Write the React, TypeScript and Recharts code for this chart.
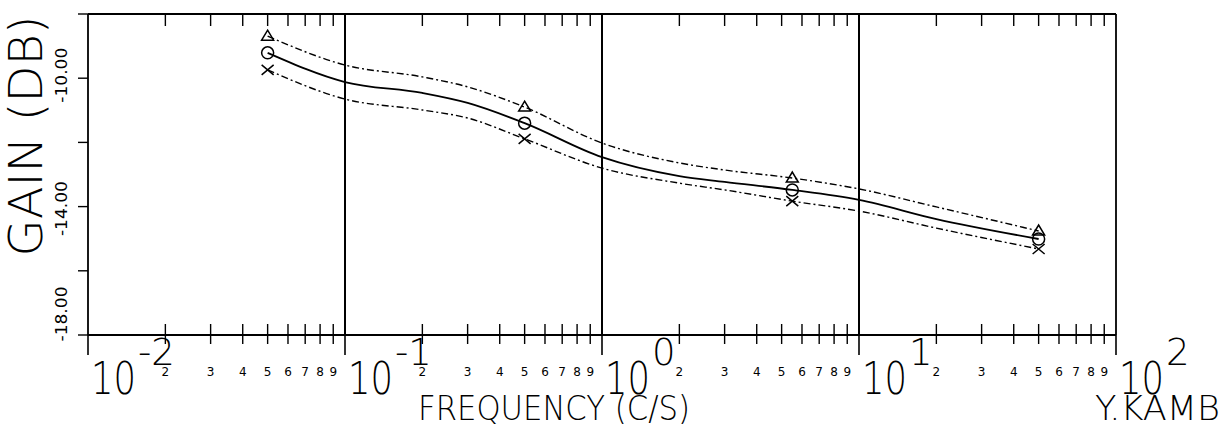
import { ComposedChart, Line, ReferenceLine, XAxis, YAxis } from "recharts";

// frequency (c/s) and gain (dB)
const freq = [0.05, 0.1, 0.2, 0.3, 0.5, 1, 2, 3, 5.5, 10, 20, 50];
const gainUpper = [-8.69, -9.59, -9.96, -10.27, -10.9, -12.02, -12.64, -12.86, -13.11, -13.45, -14.01, -14.76];
const gainMid = [-9.21, -10.12, -10.46, -10.77, -11.4, -12.46, -13.05, -13.23, -13.48, -13.79, -14.39, -15.01];
const gainLower = [-9.74, -10.65, -10.99, -11.24, -11.89, -12.8, -13.27, -13.48, -13.83, -14.14, -14.67, -15.32];
// frequencies where the plotter put a symbol
const markerFreq = [0.05, 0.5, 5.5, 50];

const decades = [0.01, 0.1, 1, 10, 100];
const decadeExp = ["-2", "-1", "0", "1", "2"];
const minorDigits = ["2", "3", "4", "5", "6", "7", "8", "9"];

const yTicks = [-18, -16, -14, -12, -10, -8];
const yLabels = [-18, -14, -10];

const FONT = "'DejaVu Sans', sans-serif";
const INK = "#000";

const data = freq.map((f, i) => ({
  f,
  up: gainUpper[i],
  mid: gainMid[i],
  low: gainLower[i],
}));

const xTicks: { v: number; label: string; major: boolean }[] = [];
decades.forEach((d, i) => {
  xTicks.push({ v: d, label: decadeExp[i], major: true });
  if (i < decades.length - 1)
    minorDigits.forEach((m) => xTicks.push({ v: d * Number(m), label: m, major: false }));
});

function BottomTick(props: any) {
  const { x, y, index } = props;
  const t = xTicks[index];
  if (!t) return <g />;
  if (t.major) {
    return (
      <g>
        <line x1={x} x2={x} y1={y} y2={y + 20} stroke={INK} strokeWidth={1.6} />
        <text x={x + 3} y={y + 59} fontSize={44} fontFamily={FONT} fontWeight={200} fill={INK}
          textLength={45} lengthAdjust="spacingAndGlyphs">10</text>
        <text x={x + 50} y={y + 30} fontSize={37} fontFamily={FONT} fontWeight={200} fill={INK}>
          {t.label}
        </text>
      </g>
    );
  }
  return (
    <g>
      <line x1={x} x2={x} y1={y - 11} y2={y + 9} stroke={INK} strokeWidth={1.4} />
      <text x={x} y={y + 41} fontSize={12} fontFamily={FONT} textAnchor="middle" fill={INK}>
        {t.label}
      </text>
    </g>
  );
}

function TopTick(props: any) {
  const { x, y, index } = props;
  const t = xTicks[index];
  if (!t || t.major) return <g />;
  return <line x1={x} x2={x} y1={y} y2={y + 12} stroke={INK} strokeWidth={1.4} />;
}

const leftShift: Record<number, number> = { [-10]: -3, [-14]: 2, [-18]: -21 };
const rightShift: Record<number, number> = { [-10]: -6, [-14]: -6, [-18]: -15 };

function LeftTick(props: any) {
  const { x, y, payload } = props;
  const v = payload.value;
  const cy = y + (leftShift[v] ?? 0);
  return (
    <g>
      <line x1={x - 10} x2={x} y1={y} y2={y} stroke={INK} strokeWidth={1.4} />
      {yLabels.includes(v) && (
        <text x={67} y={cy} transform={`rotate(-90 67 ${cy})`} fontSize={16} fontFamily={FONT}
          textAnchor="middle" fill={INK} textLength={55} lengthAdjust="spacingAndGlyphs">
          {v.toFixed(2)}
        </text>
      )}
    </g>
  );
}

function RightTick(props: any) {
  const { x, y, payload } = props;
  const v = payload.value;
  const cy = y + (rightShift[v] ?? 0);
  return (
    <g>
      <line x1={x} x2={x + 12} y1={y} y2={y} stroke={INK} strokeWidth={1.4} />
      {yLabels.includes(v) && (
        <text x={1151} y={cy} transform={`rotate(-90 1151 ${cy})`} fontSize={16} fontFamily={FONT}
          textAnchor="middle" fill={INK} textLength={55} lengthAdjust="spacingAndGlyphs">
          {v.toFixed(2)}
        </text>
      )}
    </g>
  );
}

const isMarker = (p: any) => markerFreq.includes(p?.payload?.f);

function Triangle(p: any) {
  if (!isMarker(p)) return <g key={p.key} />;
  const { cx, cy } = p;
  return (
    <path key={p.key} d={`M${cx - 6},${cy + 4} L${cx},${cy - 6} L${cx + 6},${cy + 4} Z`}
      fill="none" stroke={INK} strokeWidth={1.5} />
  );
}

function Circle(p: any) {
  if (!isMarker(p)) return <g key={p.key} />;
  return <circle key={p.key} cx={p.cx} cy={p.cy} r={6} fill="none" stroke={INK} strokeWidth={1.5} />;
}

function Cross(p: any) {
  if (!isMarker(p)) return <g key={p.key} />;
  const { cx, cy } = p;
  return (
    <path key={p.key} d={`M${cx - 6},${cy - 5} L${cx + 6},${cy + 5} M${cx - 6},${cy + 5} L${cx + 6},${cy - 5}`}
      fill="none" stroke={INK} strokeWidth={1.5} />
  );
}

export default function App() {
  return (
    <div style={{ position: "absolute", left: 0, top: 0, width: 1228, height: 428, background: "#fff" }}>
      <ComposedChart width={1228} height={428} data={data}
        margin={{ top: 4, right: 32, bottom: 13, left: 8 }}>
        <XAxis xAxisId="b" dataKey="f" type="number" scale="log" domain={[0.01, 100]}
          allowDataOverflow ticks={xTicks.map((t) => t.v)} interval={0} height={80}
          tickSize={0} tickMargin={0} tickLine={false}
          axisLine={{ stroke: INK, strokeWidth: 1.8 }} tick={<BottomTick />} />
        <XAxis xAxisId="t" orientation="top" dataKey="f" type="number" scale="log" domain={[0.01, 100]}
          allowDataOverflow ticks={xTicks.map((t) => t.v)} interval={0} height={10}
          tickSize={0} tickMargin={0} tickLine={false}
          axisLine={{ stroke: INK, strokeWidth: 1.8 }} tick={<TopTick />} />
        <YAxis yAxisId="l" type="number" domain={[-18, -8]} ticks={yTicks} interval={0} width={80}
          tickSize={0} tickMargin={0} tickLine={false}
          axisLine={{ stroke: INK, strokeWidth: 1.8 }} tick={<LeftTick />} />
        <YAxis yAxisId="r" orientation="right" type="number" domain={[-18, -8]} ticks={yTicks} interval={0}
          width={80} tickSize={0} tickMargin={0} tickLine={false}
          axisLine={{ stroke: INK, strokeWidth: 1.8 }} tick={<RightTick />} />
        {decades.slice(1, -1).map((d) => (
          <ReferenceLine key={d} xAxisId="b" yAxisId="l" x={d} stroke={INK} strokeWidth={2} />
        ))}
        <Line xAxisId="b" yAxisId="l" type="monotone" dataKey="up" stroke={INK} strokeWidth={1.4}
          strokeDasharray="7 3 2 3" dot={Triangle} activeDot={false} isAnimationActive={false} />
        <Line xAxisId="b" yAxisId="l" type="monotone" dataKey="mid" stroke={INK} strokeWidth={1.8}
          dot={Circle} activeDot={false} isAnimationActive={false} />
        <Line xAxisId="b" yAxisId="l" type="monotone" dataKey="low" stroke={INK} strokeWidth={1.4}
          strokeDasharray="7 3 2 3" dot={Cross} activeDot={false} isAnimationActive={false} />
      </ComposedChart>
      <svg width={1228} height={428} style={{ position: "absolute", left: 0, top: 0, pointerEvents: "none" }}>
        <text x={42} y={136} transform="rotate(-90 42 136)" fontSize={46} fontFamily={FONT} fontWeight={200}
          textAnchor="middle" fill={INK} textLength={241} lengthAdjust="spacingAndGlyphs">
          GAIN (DB)
        </text>
        <text x={418} y={420} fontSize={34} fontFamily={FONT} fontWeight={200} fill={INK}
          textLength={272} lengthAdjust="spacingAndGlyphs">
          FREQUENCY (C/S)
        </text>
        <text x={1095} y={420} fontSize={34} fontFamily={FONT} fontWeight={200} fill={INK}
          textLength={125} lengthAdjust="spacingAndGlyphs">
          Y.KAMB
        </text>
      </svg>
    </div>
  );
}
